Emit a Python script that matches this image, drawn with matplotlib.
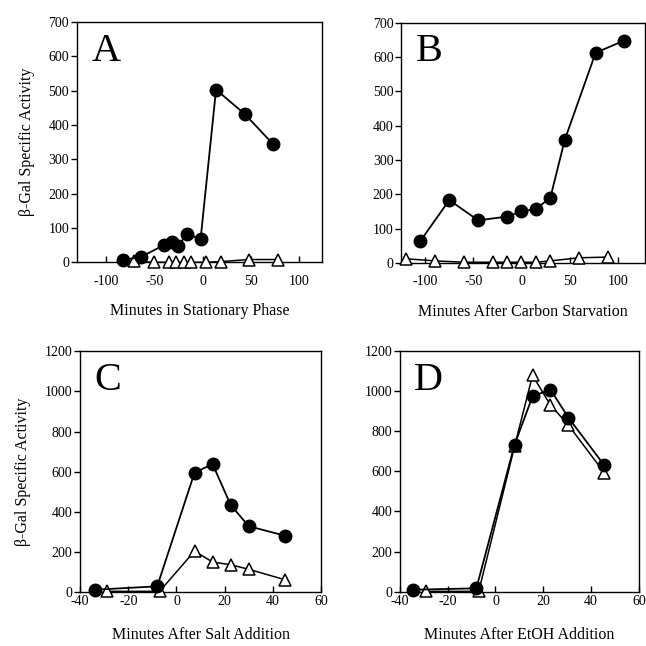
import numpy as np
import matplotlib
matplotlib.use('Agg')
import matplotlib.pyplot as plt

plt.rcParams['font.family'] = ['Liberation Serif', 'DejaVu Serif']
plt.rcParams['axes.unicode_minus'] = False

# Panel A - stationary phase
a_x_on = [-82, -64, -40, -32, -25, -16, -2, 14, 44, 73]
a_y_on = [7, 15, 50, 59, 48, 83, 67, 503, 431, 344]
a_x_off = [-71, -50, -35, -27, -19, -12, 4, 19, 48, 78]
a_y_off = [3, 0, 0, 0, 0, 0, 0, 2, 8, 8]

# Panel B - carbon starvation
b_x_on = [-105, -75, -45, -15, 0, 15, 30, 45, 77, 106]
b_y_on = [64, 183, 124, 135, 150, 157, 190, 359, 612, 647]
b_x_off = [-120, -90, -60, -30, -15, 0, 15, 30, 60, 90]
b_y_off = [12, 6, 2, 2, 2, 2, 2, 6, 15, 17]

# Panel C - salt addition
c_x_on = [-34, -8, 7.5, 15, 22.5, 30, 45]
c_y_on = [10, 27, 595, 637, 433, 327, 280]
c_x_off = [-29, -7, 7.5, 15, 22.5, 30, 45]
c_y_off = [2, 2, 203, 148, 135, 112, 60]

# Panel D - EtOH addition
d_x_on = [-34.5, -8, 8, 15.5, 23, 30.5, 45.5]
d_y_on = [10, 17, 733, 973, 1007, 867, 630]
d_x_off = [-29, -7, 8, 15.5, 23, 30.5, 45.5]
d_y_off = [2, 2, 725, 1077, 930, 830, 593]

panels = [
    ('A', a_x_on, a_y_on, a_x_off, a_y_off, 'Minutes in Stationary Phase',
     (-130, 124), [-100, -50, 0, 50, 100], (0, 700), range(0, 701, 100), True,
     [0.119, 0.594, 0.380, 0.372], 9, 11),
    ('B', b_x_on, b_y_on, b_x_off, b_y_off, 'Minutes After Carbon Starvation',
     (-125, 128), [-100, -50, 0, 50, 100], (0, 700), range(0, 701, 100), False,
     [0.621, 0.593, 0.377, 0.372], 9, 11),
    ('C', c_x_on, c_y_on, c_x_off, c_y_off, 'Minutes After Salt Addition',
     (-40, 60), [-40, -20, 0, 20, 40, 60], (0, 1200), range(0, 1201, 200), True,
     [0.124, 0.084, 0.373, 0.372], 2, 14),
    ('D', d_x_on, d_y_on, d_x_off, d_y_off, 'Minutes After EtOH Addition',
     (-40, 60), [-40, -20, 0, 20, 40, 60], (0, 1200), range(0, 1201, 200), False,
     [0.619, 0.084, 0.370, 0.373], 2, 14),
]

fig = plt.figure(figsize=(6.46, 6.46), dpi=100)

for letter, xon, yon, xoff, yoff, xlabel, xlim, xticks, ylim, yticks, show_ylab, pos, xpad, lpad in panels:
    ax = fig.add_axes(pos)
    ax.plot(xoff, yoff, color='black', lw=1.1, marker='^', ms=8.5,
            mfc='white', mec='black', mew=1.1, zorder=3, clip_on=False)
    ax.plot(xon, yon, color='black', lw=1.3, marker='o', ms=9,
            mfc='black', mec='black', zorder=4, clip_on=False)
    ax.set_xlim(xlim)
    ax.set_ylim(ylim)
    ax.set_xticks(xticks)
    ax.set_yticks(list(yticks))
    ax.tick_params(axis='x', direction='in', length=4, width=1,
                   labelsize=10, pad=xpad)
    ax.tick_params(axis='y', direction='out', length=4, width=1,
                   labelsize=10, pad=1.5)
    for s in ax.spines.values():
        s.set_linewidth(1)
    ax.set_xlabel(xlabel, fontsize=11.5, labelpad=lpad)
    if show_ylab:
        ax.set_ylabel('β-Gal Specific Activity', fontsize=11.5, labelpad=10)
    ax.text(0.06, 0.955, letter, transform=ax.transAxes, fontsize=29,
            ha='left', va='top')

fig.savefig('out.png', dpi=100)
